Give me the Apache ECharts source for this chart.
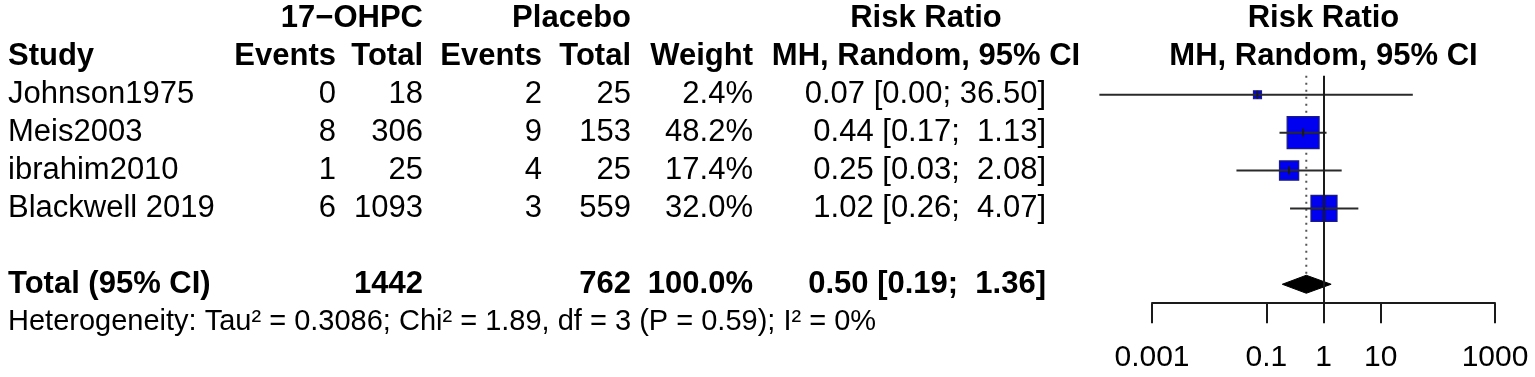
<!DOCTYPE html>
<html>
<head>
<meta charset="utf-8">
<script src="https://cdn.jsdelivr.net/npm/echarts@6/dist/echarts.min.js"></script>
<style>
  html, body { margin: 0; padding: 0; background: #fff; }
  #chart { width: 1535px; height: 377px; }
</style>
</head>
<body>
<div id="chart"></div>
<script>
// 研究数据
const studies = ['Johnson1975', 'Meis2003', 'ibrahim2010', 'Blackwell 2019'];
const eventsTrt = [0, 8, 1, 6];
const totalTrt = [18, 306, 25, 1093];
const eventsCtl = [2, 9, 4, 3];
const totalCtl = [25, 153, 25, 559];
const weights = [2.4, 48.2, 17.4, 32.0];
const rr = [0.07, 0.44, 0.25, 1.02];
const ciLow = [0.00012, 0.17, 0.03, 0.26];
const ciHigh = [36.50, 1.13, 2.08, 4.07];

// 合并结果
const pooled = [0.50, 0.19, 1.36];
const pooledTotals = [1442, 762];
const pooledWeight = 100.0;
const hetText = 'Heterogeneity: Tau² = 0.3086; Chi² = 1.89, df = 3 (P = 0.59); I² = 0%';

// 坐标轴刻度
const axisTicks = [0.001, 0.1, 1, 10, 1000];

// 列位置 (px)
const col = {
  study: 8, evt1: 336, tot1: 423, evt2: 542, tot2: 631,
  weight: 753, rr: 1046, rrHead: 926, plotHead: 1323.5
};
const FONT = 'Liberation Sans, Arial, sans-serif';
const FS = 31;

function fmtCI(est, lo, hi) {
  return est.toFixed(2) + ' [' + lo.toFixed(2) + '; ' + hi.toFixed(2).padStart(5, ' ') + ']';
}

// 表格单元
function cell(x, row, text, align, bold, size) {
  return {
    value: [x, row],
    text: text,
    label: {
      align: align,
      fontWeight: bold ? 'bold' : 'normal',
      fontSize: size || FS
    }
  };
}

function buildTable() {
  let cells = [];
  // 表头
  cells.push(cell(col.tot1, 0, '17\u2212OHPC', 'right', true));
  cells.push(cell(col.tot2, 0, 'Placebo', 'right', true));
  cells.push(cell(col.rrHead, 0, 'Risk Ratio', 'center', true));
  cells.push(cell(col.plotHead, 0, 'Risk Ratio', 'center', true));
  cells.push(cell(col.study, 1, 'Study', 'left', true));
  cells.push(cell(col.evt1, 1, 'Events', 'right', true));
  cells.push(cell(col.tot1, 1, 'Total', 'right', true));
  cells.push(cell(col.evt2, 1, 'Events', 'right', true));
  cells.push(cell(col.tot2, 1, 'Total', 'right', true));
  cells.push(cell(col.weight, 1, 'Weight', 'right', true));
  cells.push(cell(col.rrHead, 1, 'MH, Random, 95% CI', 'center', true));
  cells.push(cell(col.plotHead, 1, 'MH, Random, 95% CI', 'center', true));
  // 各研究
  studies.forEach((s, i) => {
    const row = i + 2;
    cells.push(cell(col.study, row, s, 'left'));
    cells.push(cell(col.evt1, row, String(eventsTrt[i]), 'right'));
    cells.push(cell(col.tot1, row, String(totalTrt[i]), 'right'));
    cells.push(cell(col.evt2, row, String(eventsCtl[i]), 'right'));
    cells.push(cell(col.tot2, row, String(totalCtl[i]), 'right'));
    cells.push(cell(col.weight, row, weights[i].toFixed(1) + '%', 'right'));
    cells.push(cell(col.rr, row, fmtCI(rr[i], ciLow[i], ciHigh[i]), 'right'));
  });
  // 合计
  cells.push(cell(col.study, 7, 'Total (95% CI)', 'left', true));
  cells.push(cell(col.tot1, 7, String(pooledTotals[0]), 'right', true));
  cells.push(cell(col.tot2, 7, String(pooledTotals[1]), 'right', true));
  cells.push(cell(col.weight, 7, pooledWeight.toFixed(1) + '%', 'right', true));
  cells.push(cell(col.rr, 7, fmtCI(pooled[0], pooled[1], pooled[2]), 'right', true));
  cells.push(cell(col.study, 8, hetText, 'left', false, 29));
  return cells;
}

const studyData = studies.map((s, i) => [i + 2, rr[i], ciLow[i], ciHigh[i], weights[i]]);

const myChart = echarts.init(document.getElementById('chart'));
myChart.setOption({
  animation: false,
  textStyle: { fontFamily: FONT },
  grid: [
    { left: 1152, right: 40, top: 75.8, bottom: 73.8, outerBoundsMode: 'none', containLabel: false },
    { left: 0, right: 0, top: 0, bottom: 0, outerBoundsMode: 'none', containLabel: false }
  ],
  xAxis: [
    {
      type: 'log', logBase: 10, gridIndex: 0, min: 0.001, max: 1000,
      axisLine: { show: true, onZero: false, lineStyle: { color: '#1a1a1a', width: 2 } },
      axisTick: { show: true, inside: false, length: 20, customValues: axisTicks,
        lineStyle: { color: '#1a1a1a', width: 2 } },
      axisLabel: { show: true, margin: 40, fontSize: 30, color: '#000', fontFamily: FONT,
        customValues: axisTicks, formatter: v => String(v) },
      splitLine: { show: false },
      minorTick: { show: false }
    },
    { type: 'value', gridIndex: 1, min: 0, max: 1535, show: false }
  ],
  yAxis: [
    { type: 'value', gridIndex: 0, inverse: true, min: 1.5, max: 7.5, show: false },
    { type: 'value', gridIndex: 1, inverse: true, min: -0.5, max: 9.447, show: false }
  ],
  series: [
    // 表格文字
    {
      type: 'scatter', xAxisIndex: 1, yAxisIndex: 1, symbolSize: 0, silent: true,
      itemStyle: { opacity: 1 },
      label: {
        show: true, position: 'inside', verticalAlign: 'middle', opacity: 1,
        color: '#000', fontFamily: FONT, fontSize: FS,
        formatter: p => p.data.text
      },
      data: buildTable()
    },
    // 合并效应虚线 + 无效线
    {
      type: 'line', xAxisIndex: 0, yAxisIndex: 0, symbol: 'none', silent: true, z: 1,
      lineStyle: { type: [2, 5], color: '#555', width: 2 },
      data: [[pooled[0], 1.5], [pooled[0], 7]],
      markLine: {
        silent: true, symbol: 'none', label: { show: false },
        lineStyle: { type: 'solid', color: '#1a1a1a', width: 2 },
        data: [{ xAxis: 1 }]
      }
    },
    // 各研究方块和置信区间
    {
      type: 'custom', xAxisIndex: 0, yAxisIndex: 0, z: 3, silent: true,
      encode: { x: [1, 2, 3], y: 0 },
      renderItem: function (params, api) {
        const row = api.value(0);
        const c = api.coord([api.value(1), row]);
        const p0 = api.coord([api.value(2), row]);
        const p1 = api.coord([api.value(3), row]);
        const s = Math.max(8, 4.6 * Math.sqrt(api.value(4)));
        return {
          type: 'group',
          children: [
            { type: 'rect', shape: { x: c[0] - s / 2, y: c[1] - s / 2, width: s, height: s },
              style: { fill: '#0000f0', stroke: '#1c1c80', lineWidth: 1.2 } },
            { type: 'line', shape: { x1: p0[0], y1: p0[1], x2: p1[0], y2: p1[1] },
              style: { stroke: '#2a2a2a', lineWidth: 2 } },
            { type: 'line', shape: { x1: c[0], y1: c[1] - 4, x2: c[0], y2: c[1] + 4 },
              style: { stroke: '#1a1a1a', lineWidth: 2 } }
          ]
        };
      },
      data: studyData
    },
    // 合并菱形
    {
      type: 'custom', xAxisIndex: 0, yAxisIndex: 0, z: 4, silent: true,
      encode: { x: [1, 2, 3], y: 0 },
      renderItem: function (params, api) {
        const row = api.value(0);
        const c = api.coord([api.value(1), row]);
        const p0 = api.coord([api.value(2), row]);
        const p1 = api.coord([api.value(3), row]);
        const h = 9;
        return {
          type: 'polygon',
          shape: { points: [[p0[0], c[1]], [c[0], c[1] - h], [p1[0], c[1]], [c[0], c[1] + h]] },
          style: { fill: '#000', stroke: '#000', lineWidth: 1 }
        };
      },
      data: [[7, pooled[0], pooled[1], pooled[2]]]
    }
  ]
});
</script>
</body>
</html>
